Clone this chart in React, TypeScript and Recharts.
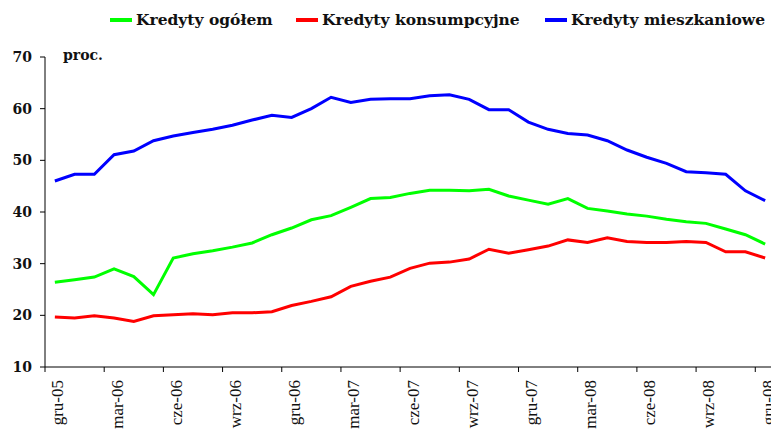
import React from 'react';
import { LineChart, Line, XAxis, YAxis } from 'recharts';

const months: string[] = [
  'gru-05', 'sty-06', 'lut-06', 'mar-06', 'kwi-06', 'maj-06', 'cze-06', 'lip-06', 'sie-06', 'wrz-06', 'paź-06', 'lis-06',
  'gru-06', 'sty-07', 'lut-07', 'mar-07', 'kwi-07', 'maj-07', 'cze-07', 'lip-07', 'sie-07', 'wrz-07', 'paź-07', 'lis-07',
  'gru-07', 'sty-08', 'lut-08', 'mar-08', 'kwi-08', 'maj-08', 'cze-08', 'lip-08', 'sie-08', 'wrz-08', 'paź-08', 'lis-08',
  'gru-08',
];

const ogolem: number[] = [
  26.4, 26.9, 27.4, 29.0, 27.5, 24.0, 31.1, 31.9, 32.5, 33.2, 34.0, 35.6,
  36.9, 38.5, 39.3, 40.9, 42.6, 42.8, 43.6, 44.2, 44.2, 44.1, 44.4, 43.1,
  42.3, 41.5, 42.6, 40.7, 40.2, 39.6, 39.2, 38.6, 38.1, 37.8, 36.7, 35.6,
  33.8,
];

const konsumpcyjne: number[] = [
  19.7, 19.5, 19.9, 19.5, 18.8, 19.9, 20.1, 20.3, 20.1, 20.5, 20.5, 20.7,
  21.9, 22.7, 23.6, 25.6, 26.6, 27.4, 29.1, 30.1, 30.3, 30.9, 32.8, 32.0,
  32.7, 33.4, 34.6, 34.1, 35.0, 34.3, 34.1, 34.1, 34.3, 34.1, 32.3, 32.3,
  31.1,
];

const mieszkaniowe: number[] = [
  46.0, 47.3, 47.3, 51.1, 51.8, 53.8, 54.7, 55.4, 56.0, 56.8, 57.8, 58.7,
  58.3, 60.0, 62.2, 61.2, 61.8, 61.9, 61.9, 62.5, 62.7, 61.8, 59.8, 59.8,
  57.4, 56.0, 55.2, 54.9, 53.8, 52.0, 50.6, 49.4, 47.8, 47.6, 47.3, 44.1,
  42.2,
];

const yTicks: number[] = [10, 20, 30, 40, 50, 60, 70];

const data = months.map((m, i) => ({
  m,
  ogolem: ogolem[i],
  konsumpcyjne: konsumpcyjne[i],
  mieszkaniowe: mieszkaniowe[i],
}));

const boldFont = '"DejaVu Serif", serif';
// width of one month on the x axis
const BAND = 729.6 / months.length;

const MonthTick = (props: any) => {
  const { x, y, payload } = props;
  return (
    <g>
      <line x1={x - BAND / 2} x2={x - BAND / 2} y1={y} y2={y + 5} stroke="#000" strokeWidth={1} />
      <text
        transform={`translate(${x + 8.5},${y + 13}) rotate(-90)`}
        textAnchor="end"
        fontFamily='"Liberation Serif", serif'
        fontSize={17}
        fill="#111"
      >
        {payload.value}
      </text>
    </g>
  );
};

const legendItems = [
  { label: 'Kredyty ogółem', color: '#00ff00', left: 110 },
  { label: 'Kredyty konsumpcyjne', color: '#ff0000', left: 296 },
  { label: 'Kredyty mieszkaniowe', color: '#0000ff', left: 545 },
];

export default function App() {
  return (
    <div style={{ position: 'absolute', left: 0, top: 0, width: 771, height: 432, overflow: 'hidden', background: '#fff' }}>
      {legendItems.map((it) => (
        <div
          key={it.label}
          style={{
            position: 'absolute',
            left: it.left,
            top: 10,
            display: 'flex',
            alignItems: 'center',
            fontFamily: boldFont,
            fontWeight: 'bold',
            fontSize: 15.5,
            color: '#111',
            whiteSpace: 'nowrap',
          }}
        >
          <span style={{ display: 'inline-block', width: 22, height: 4, background: it.color, marginRight: 4 }} />
          {it.label}
        </div>
      ))}
      <div
        style={{
          position: 'absolute',
          left: 63,
          top: 47,
          fontFamily: boldFont,
          fontWeight: 'bold',
          fontSize: 14,
          color: '#111',
        }}
      >
        proc.
      </div>
      <LineChart width={775} height={432} data={data} margin={{ top: 57, right: 0, left: 0, bottom: 4 }}>
        <XAxis
          dataKey="m"
          interval={2}
          padding={{ left: BAND / 2, right: BAND / 2 }}
          tickLine={false}
          tickSize={0}
          tickMargin={0}
          height={61}
          tick={<MonthTick />}
          axisLine={{ stroke: '#000', strokeWidth: 1 }}
        />
        <YAxis
          domain={[10, 70]}
          ticks={yTicks}
          width={45}
          tickSize={5}
          tickMargin={8}
          axisLine={{ stroke: '#000', strokeWidth: 1 }}
          tickLine={{ stroke: '#000' }}
          tick={{ fontFamily: boldFont, fontWeight: 'bold', fontSize: 14, fill: '#111' }}
          allowDataOverflow
        />
        <Line type="linear" dataKey="ogolem" stroke="#00ff00" strokeWidth={3} dot={false} isAnimationActive={false} />
        <Line type="linear" dataKey="konsumpcyjne" stroke="#ff0000" strokeWidth={3} dot={false} isAnimationActive={false} />
        <Line type="linear" dataKey="mieszkaniowe" stroke="#0000ff" strokeWidth={3} dot={false} isAnimationActive={false} />
      </LineChart>
    </div>
  );
}
